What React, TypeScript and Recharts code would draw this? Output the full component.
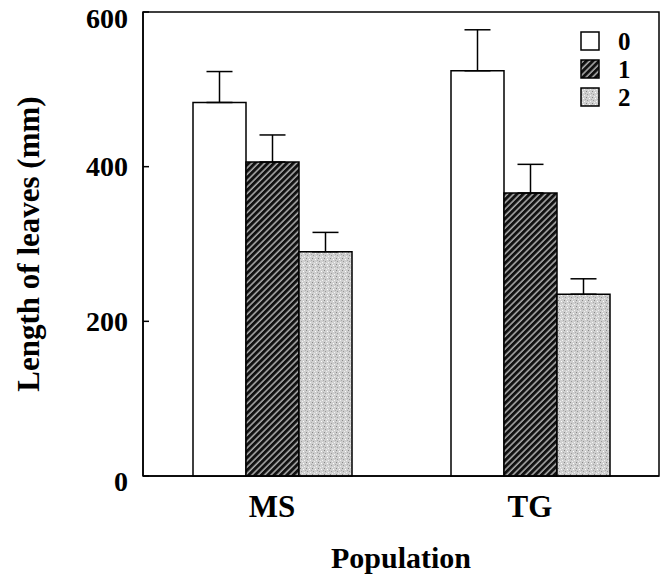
import React from 'react';
import { BarChart, Bar, XAxis, YAxis, ErrorBar, ReferenceArea, Legend } from 'recharts';

const categories = ['MS', 'TG'];
const level0 = [483, 524];
const err0 = [40, 53];
const level1 = [406, 366];
const err1 = [35, 37];
const level2 = [290, 235];
const err2 = [25, 20];
const yTicks = [0, 200, 400, 600];
const seriesNames = ['0', '1', '2'];

const data = categories.map((c, i) => ({
  name: c,
  v0: level0[i],
  e0: [0, err0[i]],
  v1: level1[i],
  e1: [0, err1[i]],
  v2: level2[i],
  e2: [0, err2[i]],
}));

const FONT = '"Liberation Serif", "Times New Roman", serif';
const fills = ['#ffffff', 'url(#hatch)', 'url(#stipple)'];

const YTick = (props: any) => {
  const { x, y, payload } = props;
  const v = payload.value;
  const dy = v === 600 ? 6 : v === 0 ? 5 : 0;
  return (
    <g>
      <line x1={x + 15} x2={x + 21} y1={y} y2={y} stroke="#000" strokeWidth={1.5} />
      <text x={x} y={y + dy} dy="0.35em" textAnchor="end" fontFamily={FONT} fontWeight="bold" fontSize={28} fill="#000">
        {v}
      </text>
    </g>
  );
};

const XTick = (props: any) => {
  const { x, y, payload } = props;
  return (
    <text x={x} y={y + 33} textAnchor="middle" fontFamily={FONT} fontWeight="bold" fontSize={31} fill="#000">
      {payload.value}
    </text>
  );
};

const LegendContent = () => (
  <svg width={70} height={90} style={{ overflow: 'visible' }}>
    {seriesNames.map((n, i) => (
      <g key={n}>
        <rect x={1} y={1 + i * 28} width={18} height={18} fill={fills[i]} stroke="#000" strokeWidth={1.5} />
        <text x={38} y={10 + i * 28} dy="0.35em" fontFamily={FONT} fontWeight="bold" fontSize={25} fill="#000">
          {n}
        </text>
      </g>
    ))}
  </svg>
);

export default function App() {
  return (
    <div style={{ position: 'absolute', left: 0, top: 0, background: '#fff' }}>
      <BarChart
        width={662}
        height={574}
        data={data}
        margin={{ top: 12, right: 3, left: 0, bottom: 0 }}
        barGap={0}
      >
        <defs>
          <pattern id="hatch" patternUnits="userSpaceOnUse" width={4.5} height={4.5} patternTransform="rotate(45)">
            <rect width={4.5} height={4.5} fill="#111" />
            <line x1={1} y1={0} x2={1} y2={4.5} stroke="#fff" strokeWidth={1} />
          </pattern>
          <pattern id="stipple" patternUnits="userSpaceOnUse" width={6} height={6}>
            <rect width={6} height={6} fill="#cfcfcf" />
            <rect x={0} y={0} width={1} height={1} fill="#888" />
            <rect x={3} y={1} width={1} height={1} fill="#fff" />
            <rect x={1} y={3} width={1} height={1} fill="#999" />
            <rect x={4} y={4} width={1} height={1} fill="#f4f4f4" />
            <rect x={5} y={2} width={1} height={1} fill="#aaa" />
            <rect x={2} y={5} width={1} height={1} fill="#eee" />
          </pattern>
        </defs>
        <XAxis
          dataKey="name"
          height={98}
          tickLine={false}
          axisLine={{ stroke: '#000', strokeWidth: 1.5 }}
          tick={<XTick />}
          label={{
            value: 'Population',
            position: 'insideBottom',
            offset: 6,
            style: { fontFamily: FONT, fontWeight: 'bold', fontSize: 30, fill: '#000' },
          }}
        />
        <YAxis
          width={143}
          domain={[0, 600]}
          ticks={yTicks}
          tickSize={0}
          tickMargin={15}
          tickLine={false}
          axisLine={{ stroke: '#000', strokeWidth: 1.5 }}
          tick={<YTick />}
          label={{
            value: 'Length of leaves (mm)',
            angle: -90,
            position: 'insideLeft',
            offset: 28,
            style: { fontFamily: FONT, fontWeight: 'bold', fontSize: 31, fill: '#000', textAnchor: 'middle' },
          }}
        />
        <ReferenceArea y1={0} y2={600} fill="none" stroke="#000" strokeWidth={1.5} ifOverflow="visible" />
        <Legend
          verticalAlign="middle"
          align="center"
          layout="vertical"
          content={<LegendContent />}
          wrapperStyle={{ top: 31, left: 580, width: 70, height: 90 }}
        />
        <Bar dataKey="v0" barSize={53} fill={fills[0]} stroke="#000" strokeWidth={1.5} isAnimationActive={false}>
          <ErrorBar dataKey="e0" width={13} stroke="#000" strokeWidth={1.5} direction="y" />
        </Bar>
        <Bar dataKey="v1" barSize={53} fill={fills[1]} stroke="#000" strokeWidth={1.5} isAnimationActive={false}>
          <ErrorBar dataKey="e1" width={13} stroke="#000" strokeWidth={1.5} direction="y" />
        </Bar>
        <Bar dataKey="v2" barSize={53} fill={fills[2]} stroke="#000" strokeWidth={1.5} isAnimationActive={false}>
          <ErrorBar dataKey="e2" width={13} stroke="#000" strokeWidth={1.5} direction="y" />
        </Bar>
      </BarChart>
    </div>
  );
}
